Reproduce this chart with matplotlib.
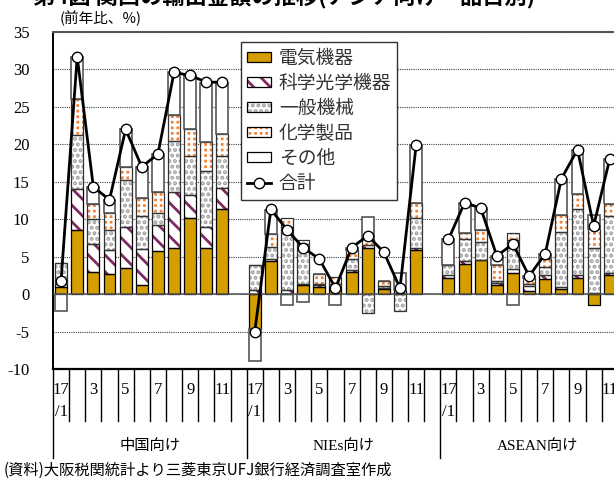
import numpy as np
import matplotlib
matplotlib.use("Agg")
import matplotlib.pyplot as plt
from matplotlib.patches import Patch
from matplotlib.lines import Line2D
from matplotlib.transforms import blended_transform_factory

plt.rcParams['font.family'] = ['Liberation Serif', 'Noto Sans CJK JP']
plt.rcParams['axes.unicode_minus'] = False
plt.rcParams['hatch.linewidth'] = 2.0

# ---- data: 2017/1 - 2017/11, 前年比 (%), 品目別寄与
groups = ['中国向け', 'NIEs向け', 'ASEAN向け']
month_labels = ['17\n/1', '', '3', '', '5', '', '7', '', '9', '', '11', '']
series_names = ['電気機器', '科学光学機器', '一般機械', '化学製品', 'その他']

cn_elec = [1.0, 8.6, 3.0, 2.7, 3.5, 1.2, 5.7, 6.2, 10.2, 6.1, 11.3]
cn_sci = [0.4, 5.5, 3.7, 3.2, 5.4, 4.8, 3.5, 7.4, 3.1, 2.8, 2.9]
cn_gen = [2.7, 7.2, 3.3, 2.6, 6.3, 4.4, 1.6, 6.9, 5.2, 7.5, 4.3]
cn_chem = [0.0, 4.7, 2.0, 2.3, 1.8, 2.4, 2.9, 3.4, 3.6, 3.9, 2.9]
cn_other = [-2.2, 5.7, 2.3, 1.8, 5.0, 4.2, 5.0, 5.7, 7.1, 7.9, 6.8]
cn_total = [1.8, 31.7, 14.3, 12.6, 22.0, 17.0, 18.7, 29.6, 29.2, 28.3, 28.3]

nie_elec = [-4.7, 4.4, 0.0, 1.2, 0.9, 0.8, 3.0, 6.1, 0.7, 0.2, 5.9]
nie_sci = [0.6, 0.3, 0.6, 0.2, 0.3, 0.3, 0.2, 0.4, 0.1, 0.3, 0.3]
nie_gen = [3.3, 1.6, 8.4, 5.3, 0.2, 0.2, 1.5, -2.5, 0.3, -2.2, 3.9]
nie_chem = [0.0, 1.7, 1.2, 0.5, 1.3, 1.0, 1.2, 0.8, 0.6, 0.1, 2.1]
nie_other = [-4.2, 3.2, -1.5, -1.0, 0.0, -1.5, 0.3, 3.0, 0.0, 2.2, 7.7]
nie_total = [-5.0, 11.3, 8.6, 6.2, 4.7, 0.8, 6.2, 7.8, 5.6, 0.8, 19.9]

as_elec = [2.2, 4.0, 4.5, 1.2, 2.8, 0.4, 2.0, 0.7, 2.2, -1.4, 2.5]
as_sci = [0.3, 0.4, 0.1, 0.3, 0.5, 0.7, 0.5, 0.2, 0.4, 0.1, 0.3]
as_gen = [1.4, 2.9, 2.4, 0.2, 3.9, 0.2, 1.1, 7.4, 8.8, 6.1, 7.6]
as_chem = [0.0, 0.8, 1.5, 2.2, 1.0, 0.8, 1.1, 2.2, 2.0, 2.5, 1.6]
as_other = [3.4, 4.1, 3.0, 1.2, -1.5, 0.3, 0.7, 4.9, 5.9, 1.8, 6.1]
as_total = [7.3, 12.2, 11.5, 5.1, 6.7, 2.4, 5.4, 15.4, 19.3, 9.1, 18.1]

# ---- styles
faces = ['#D49E00', 'white', 'white', '#F0843A', 'white']
hatch_cols = ['#D49E00', '#7E2B62', '#A0A0A0', 'white', 'white']
hatches = [None, '\\\\', '...', '+++', None]
edge_cols = ['black', 'black', '#333333', '#333333', '#555555']
edge_lw = [0.9, 0.9, 0.9, 0.9, 1.2]

W, H = 614, 479
NSLOT = 12
NMON = len(cn_total)

fig = plt.figure(figsize=(W / 100, H / 100), dpi=100)
# axes runs past the right edge of the canvas
ax = fig.add_axes([53 / W, 1 - 369 / H, 581 / W, 337 / H])

xb = np.concatenate([g * NSLOT + np.arange(NMON) + 0.5 for g in range(3)])
stack = np.array([
    cn_elec + nie_elec + as_elec,
    cn_sci + nie_sci + as_sci,
    cn_gen + nie_gen + as_gen,
    cn_chem + nie_chem + as_chem,
    cn_other + nie_other + as_other,
])

pos_base = np.zeros(len(xb))
neg_base = np.zeros(len(xb))
for k in range(len(series_names)):
    v = stack[k]
    bottom = np.where(v >= 0, pos_base, neg_base)
    ax.bar(xb, v, bottom=bottom, width=0.74, color=faces[k],
           edgecolor=hatch_cols[k], hatch=hatches[k], linewidth=0, zorder=2)
    ax.bar(xb, v, bottom=bottom, width=0.74, fill=False,
           edgecolor=edge_cols[k], linewidth=edge_lw[k], zorder=2.1)
    pos_base += np.where(v > 0, v, 0)
    neg_base += np.where(v < 0, v, 0)

# 合計 line, broken between regions
xl, yl = [], []
for g, tot in enumerate([cn_total, nie_total, as_total]):
    xl += list(g * NSLOT + np.arange(NSLOT) + 0.5)
    yl += list(tot) + [np.nan] * (NSLOT - len(tot))
ax.plot(xl, yl, color='black', lw=2, marker='o', ms=7.5,
        mfc='white', mec='black', mew=1, zorder=4)

ax.axhline(0, color='#555555', lw=1.1, zorder=3)

ax.set_xlim(0, 3 * NSLOT)
ax.set_ylim(-10, 35)
ax.set_yticks(range(-10, 36, 5))
ax.yaxis.grid(True, linestyle=(0, (1, 1)), color='#444444', lw=0.8, zorder=0)
ax.set_axisbelow(True)
ax.tick_params(axis='y', length=0, pad=17, labelsize=12)
ax.set_xticks([])
ax.spines['right'].set_visible(False)
ax.spines['top'].set_color('#555555')
ax.spines['top'].set_linewidth(1.5)
ax.spines['left'].set_linewidth(1.4)
ax.spines['bottom'].set_linewidth(1.6)

# category axis drawn by hand below the plot
tr = blended_transform_factory(ax.transData, ax.transAxes)
month_bottom = (369 - 421) / 337
group_bottom = (369 - 458) / 337
for i in range(3 * NSLOT + 1):
    y0 = group_bottom if i % NSLOT == 0 else month_bottom
    ax.plot([i, i], [0, y0], color='black', lw=1.0, transform=tr, clip_on=False)
for g in range(3):
    for j, lab in enumerate(month_labels):
        if not lab:
            continue
        parts = lab.split('\n')
        ax.text(g * NSLOT + j + 0.5, (369 - 390) / 337, parts[0], transform=tr,
                ha='center', va='center', fontsize=12)
        if len(parts) > 1:
            ax.text(g * NSLOT + j + 0.5, (369 - 412) / 337, parts[1], transform=tr,
                    ha='center', va='center', fontsize=12)
    ax.text(g * NSLOT + NSLOT / 2, (369 - 446) / 337, groups[g], transform=tr,
            ha='center', va='center', fontsize=11)

# legend
handles = []
for k in range(len(series_names)):
    handles.append((Patch(facecolor=faces[k], edgecolor=hatch_cols[k], hatch=hatches[k], lw=0),
                    Patch(fill=False, edgecolor='black', lw=0.9)))
handles.append(Line2D([], [], color='black', lw=2, marker='o', ms=7.5,
                      mfc='white', mec='black', mew=1))
leg = ax.legend(handles, series_names + ['合計'], loc='upper left',
                bbox_to_anchor=((241 - 53) / 581, (369 - 42) / 337), borderaxespad=0,
                prop={'family': 'Noto Sans CJK JP', 'size': 13.5},
                handlelength=1.3, handleheight=0.45, handletextpad=0.4,
                labelspacing=0.21, borderpad=0.32, fancybox=False,
                framealpha=1, edgecolor='#333333', numpoints=1)
leg.get_frame().set_linewidth(1.0)
leg.set_zorder(5)
for t in leg.get_texts():
    t.set_color('#333333')

fig.text(60 / W, 1 - 18 / H, '(前年比、%)', fontsize=10.5, va='center', ha='left',
         family=['Noto Sans CJK JP'])
fig.text(4 / W, 1 - 470 / H, '(資料)大阪税関統計より三菱東京UFJ銀行経済調査室作成',
         fontsize=11, va='center', ha='left',
         family=['Noto Sans CJK JP', 'DejaVu Sans'])
fig.text(33 / W, 1 - 4 / H, '第4図 関西の輸出金額の推移(アジア向け・品目別)',
         fontsize=16, fontweight='bold', va='baseline', ha='left',
         family=['Noto Sans CJK JP'])

fig.savefig('out.png', dpi=100)
